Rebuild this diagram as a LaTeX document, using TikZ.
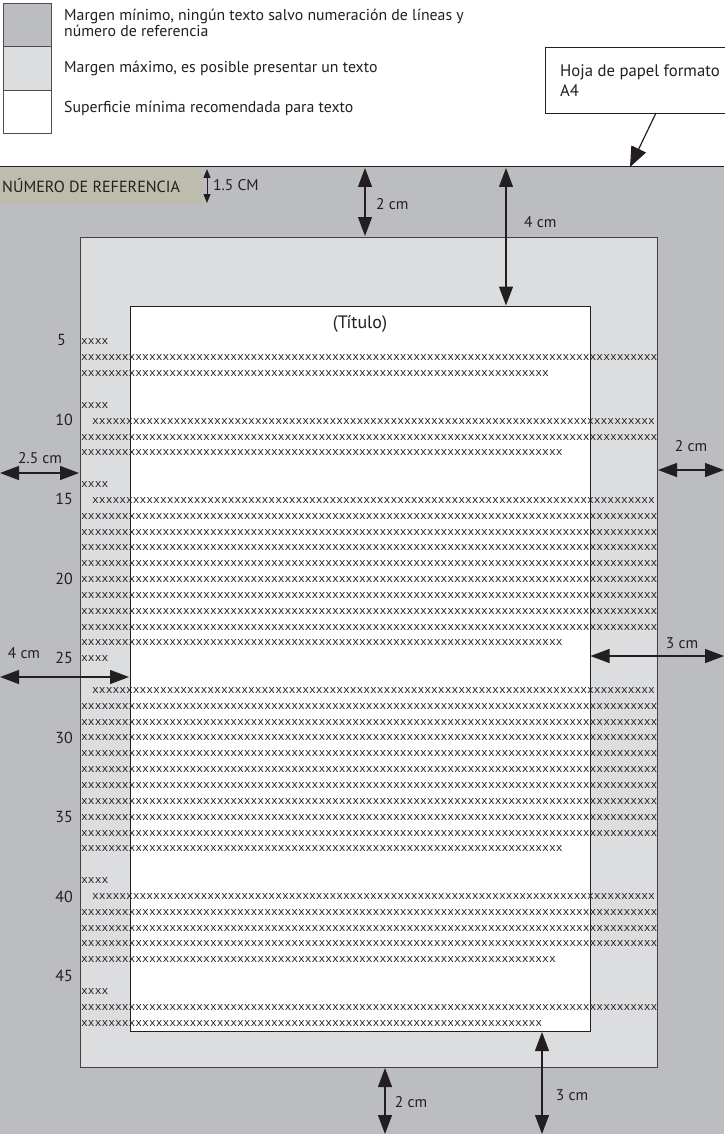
\documentclass[tikz,border=0pt]{standalone}
\usepackage{fontspec}
\setmainfont{PT Sans}
\newfontfamily\xfont{Liberation Mono}
\usetikzlibrary{arrows.meta}
\ExplSyntaxOn
\cs_new:Npn \xrep #1 {\prg_replicate:nn{#1}{x}}
\ExplSyntaxOff
\definecolor{darkmargin}{RGB}{188,189,192}
\definecolor{lightmargin}{RGB}{220,221,223}
\definecolor{refbox}{RGB}{190,189,173}
\definecolor{ink}{RGB}{35,31,32}
\begin{document}
\begin{tikzpicture}[x=1pt,y=-1pt,
  lbl/.style={font=\fontsize{15.5}{16}\selectfont, text=ink, inner sep=0pt},
  leglbl/.style={font=\fontsize{15.8}{16}\selectfont, text=ink, inner sep=0pt, anchor=base west, align=left},
  numlbl/.style={font=\fontsize{16}{16}\selectfont, text=ink, inner sep=0pt, anchor=east},
  xline/.style={font=\xfont\fontsize{11.3}{12}\selectfont, text=ink, inner sep=0pt, anchor=west},
  legbox/.style={draw=ink!80, line width=0.9pt, minimum width=48pt, minimum height=43.5pt, anchor=north west, inner sep=0pt},
  dimarrow/.style={draw=ink, line width=1.2pt, {Triangle[length=19pt,width=14pt]}-{Triangle[length=19pt,width=14pt]}},
  smallarrow/.style={draw=ink, line width=1pt, {Triangle[length=9pt,width=7pt]}-{Triangle[length=9pt,width=7pt]}},
  callarrow/.style={draw=ink, line width=1.2pt, -{Triangle[length=20pt,width=16pt]}}
]
\useasboundingbox (0,0) rectangle (724,1134);
\fill[white] (0,0) rectangle (724,1134);

% legend
\node[legbox, fill=darkmargin] (leg1) at (3,3) {};
\node[legbox, fill=lightmargin] (leg2) at (3,46.5) {};
\node[legbox, fill=white] (leg3) at (3,90) {};
\node[leglbl] (legt1) at (64,36.7) {Margen mínimo, ningún texto salvo numeración de líneas y\\número de referencia};
\node[leglbl] (legt2) at (64,72.7) {Margen máximo, es posible presentar un texto};
\node[leglbl] (legt3) at (64,112.7) {Superficie mínima recomendada para texto};

% A4 callout
\node[draw=ink, line width=1pt, fill=white, minimum width=190pt, minimum height=66pt, anchor=north west] (a4box) at (545,47) {};
\node[font=\fontsize{16.7}{20}\selectfont, text=ink, inner sep=0pt, anchor=base west, align=left] (a4text) at (560,97) {Hoja de papel formato\\A4};

% page
\fill[darkmargin] (0,167) rectangle (724,1134);
\coordinate (pageL) at (0,167);
\coordinate (pageR) at (724,167);
\draw[ink, line width=1pt] (pageL) -- (pageR);
\coordinate (a4start) at (656,113);
\coordinate (a4tip) at (630,167);
\draw[callarrow] (a4start) -- (a4tip);

% reference number strip
\fill[refbox] (0,168) rectangle (202,204);
\node[font=\fontsize{16.1}{16}\selectfont, text=ink, inner sep=0pt, anchor=west] (refnum) at (2,186) {NÚMERO DE REFERENCIA};
\coordinate (r1) at (207,169);
\coordinate (r2) at (207,203);
\draw[smallarrow] (r1) -- (r2);
\node[lbl, anchor=west] (r15) at (213,185) {1.5 CM};

% margins
\node[draw=ink!85, line width=1pt, fill=lightmargin, minimum width=577pt, minimum height=830pt, anchor=north west, inner sep=0pt] (maxm) at (80,237) {};
\node[draw=ink, line width=1.1pt, fill=white, minimum width=460pt, minimum height=725pt, anchor=north west, inner sep=0pt] (minm) at (130,306) {};

\node[font=\fontsize{18}{18}\selectfont, text=ink, inner sep=0pt] (titulo) at (360,324) {(Título)};

% text lines
\foreach \ln/\xs/\n in {5/81/4, 6/81/85, 7/81/69,
  9/81/4, 10/92/83, 11/81/85, 12/81/71,
  14/81/4, 15/92/83, 16/81/85, 17/81/85, 18/81/85, 19/81/85, 20/81/85, 21/81/85, 22/81/85, 23/81/85, 24/81/71,
  25/81/4, 27/92/83, 28/81/85, 29/81/85, 30/81/85, 31/81/85, 32/81/85, 33/81/85, 34/81/85, 35/81/85, 36/81/85, 37/81/71,
  39/81/4, 40/92/83, 41/81/85, 42/81/85, 43/81/85, 44/81/70,
  46/81/4, 47/81/85, 48/81/68}
  {\node[xline] (line\ln) at (\xs,{342+(\ln-5)*15.84}) {\xrep{\n}};}

% line numbers
\node[numlbl] (n5) at (66,340) {5};
\foreach \n in {10,15,...,45}
  {\node[numlbl] (n\n) at (73,{340+(\n-5)*15.9}) {\n};}

% dimension arrows
\coordinate (t2a) at (365,168);
\coordinate (t2b) at (365,236);
\draw[dimarrow] (t2a) -- (t2b);
\node[lbl, anchor=west] (t2l) at (376,204) {2 cm};

\coordinate (t4a) at (506,168);
\coordinate (t4b) at (506,305.5);
\draw[dimarrow] (t4a) -- (t4b);
\node[lbl, anchor=west] (t4l) at (524,222) {4 cm};

\coordinate (l25a) at (0,473);
\coordinate (l25b) at (79,473);
\draw[dimarrow] (l25a) -- (l25b);
\node[lbl] (l25l) at (40,458) {2.5 cm};

\coordinate (r2a) at (658,470);
\coordinate (r2b) at (724,470);
\draw[dimarrow] (r2a) -- (r2b);
\node[lbl] (r2l) at (691,446) {2 cm};

\coordinate (l4a) at (0,677);
\coordinate (l4b) at (129,677);
\draw[dimarrow] (l4a) -- (l4b);
\node[lbl] (l4l) at (24,653) {4 cm};

\coordinate (r3a) at (590.5,656);
\coordinate (r3b) at (724,656);
\draw[dimarrow] (r3a) -- (r3b);
\node[lbl] (r3l) at (682,643) {3 cm};

\coordinate (b2a) at (385,1068);
\coordinate (b2b) at (385,1134);
\draw[dimarrow] (b2a) -- (b2b);
\node[lbl] (b2l) at (411,1102) {2 cm};

\coordinate (b3a) at (542,1032);
\coordinate (b3b) at (542,1134);
\draw[dimarrow] (b3a) -- (b3b);
\node[lbl] (b3l) at (572,1095) {3 cm};
\end{tikzpicture}
\end{document}
